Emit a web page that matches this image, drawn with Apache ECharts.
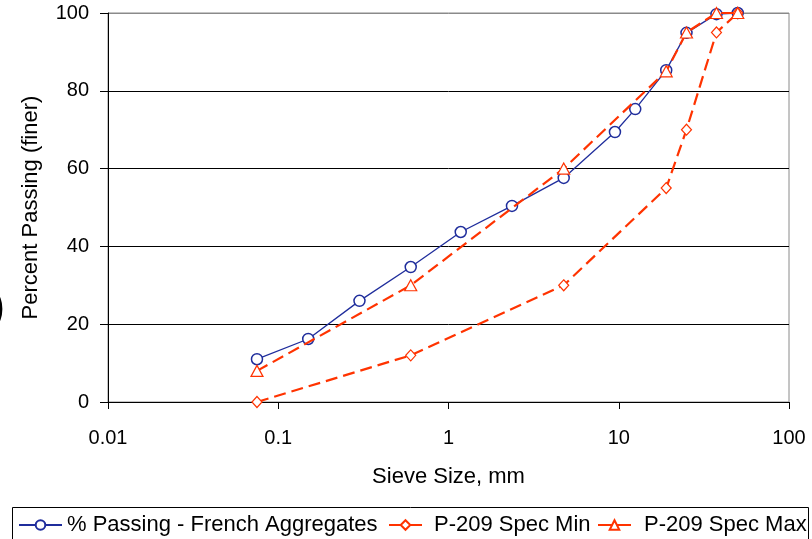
<!DOCTYPE html>
<html><head><meta charset="utf-8">
<script src="https://cdn.jsdelivr.net/npm/echarts@6/dist/echarts.min.js"></script>
<style>html,body{margin:0;padding:0;background:#fff}#c{width:812px;height:539px}</style>
</head><body><div id="c"></div>
<script>
const frenchSizes = [0.075, 0.15, 0.3, 0.6, 1.18, 2.36, 4.75, 9.5, 12.5, 19, 25, 37.5, 50];
const frenchPassing = [11, 16.2, 26, 34.7, 43.7, 50.4, 57.6, 69.4, 75.3, 85.3, 94.9, 99.7, 100];
const specSizes = [0.075, 0.6, 4.75, 19, 25, 37.5, 50];
const specMin = [0, 12, 30, 55, 70, 95, 100];
const specMax = [8, 30, 60, 85, 95, 100, 100];
const yTicks = [0, 20, 40, 60, 80, 100];
const seriesNames = ['% Passing - French Aggregates', 'P-209 Spec Min', 'P-209 Spec Max'];

const BLUE = '#1f2d9c', RED = '#ff3300';
const FONT = 'Liberation Sans, Arial, sans-serif';
const pairs = (xs, ys) => xs.map((x, i) => [x, ys[i]]);

const legendBase = (name, left, w, pad) => ({
  data: [name], left: left, top: 514,
  itemWidth: w, itemHeight: 12, padding: 0,
  lineStyle: {type: 'solid'},
  textStyle: {fontSize: 22, color: '#000', fontFamily: FONT, padding: [0, 0, 0, pad]}
});

const chart = echarts.init(document.getElementById('c'), null, {renderer: 'canvas'});
chart.setOption({
  animation: false,
  backgroundColor: '#fff',
  textStyle: {fontFamily: FONT},
  grid: {left: 108, right: 23, top: 13, bottom: 137, show: true, borderColor: '#8a8a8a', borderWidth: 1},
  legend: [
    legendBase(seriesNames[0], 18, 43, 0),
    legendBase(seriesNames[1], 388, 33, 7),
    legendBase(seriesNames[2], 597, 33, 8)
  ],
  graphic: [
    {type: 'rect', shape: {x: 12.5, y: 507.5, width: 796, height: 40}, style: {fill: 'none', stroke: '#000', lineWidth: 1}, z: -1},
    {type: 'text', left: -9, top: 287, style: {text: ')', fontSize: 42, fill: '#000', fontFamily: FONT}}
  ],
  xAxis: {
    type: 'log', logBase: 10, min: 0.01, max: 100,
    name: 'Sieve Size, mm', nameLocation: 'middle', nameGap: 64,
    nameTextStyle: {fontSize: 22, color: '#000', fontFamily: FONT},
    axisLine: {onZero: false, lineStyle: {color: '#000', width: 1}},
    axisTick: {show: true, inside: false, length: 7, lineStyle: {color: '#000'}},
    minorTick: {show: false},
    axisLabel: {fontSize: 20, color: '#000', margin: 26, fontFamily: FONT, formatter: v => String(+v.toPrecision(6))},
    splitLine: {show: false}
  },
  yAxis: {
    type: 'value', min: yTicks[0], max: yTicks[yTicks.length - 1], interval: 20,
    name: 'Percent Passing (finer)', nameLocation: 'middle', nameGap: 66, nameRotate: 90,
    nameTextStyle: {fontSize: 22, color: '#000', fontFamily: FONT},
    axisLine: {show: true, lineStyle: {color: '#000', width: 1}},
    axisTick: {show: true, inside: false, length: 8, lineStyle: {color: '#000'}},
    axisLabel: {fontSize: 20, color: '#000', margin: 19, fontFamily: FONT},
    splitLine: {show: true, lineStyle: {color: ['#000', '#000', '#000', '#000', '#000', '#8a8a8a'], width: 1}}
  },
  series: [
    {
      name: seriesNames[0], type: 'line', data: pairs(frenchSizes, frenchPassing), clip: false,
      symbol: 'circle', symbolSize: 11, showAllSymbol: true,
      lineStyle: {color: BLUE, width: 1.3},
      itemStyle: {color: '#fff', borderColor: BLUE, borderWidth: 1.5},
      z: 2
    },
    {
      name: seriesNames[1], type: 'line', data: pairs(specSizes, specMin), clip: false,
      symbol: 'diamond', symbolSize: [10, 11], showAllSymbol: true,
      lineStyle: {color: RED, width: 2.2, type: [12, 6]},
      itemStyle: {color: '#fff', borderColor: RED, borderWidth: 1.2},
      z: 3
    },
    {
      name: seriesNames[2], type: 'line', data: pairs(specSizes, specMax), clip: false,
      symbol: 'triangle', symbolSize: [12, 11], showAllSymbol: true,
      lineStyle: {color: RED, width: 2.2, type: [12, 6]},
      itemStyle: {color: '#fff', borderColor: RED, borderWidth: 1.2},
      z: 4
    }
  ]
});
</script></body></html>
